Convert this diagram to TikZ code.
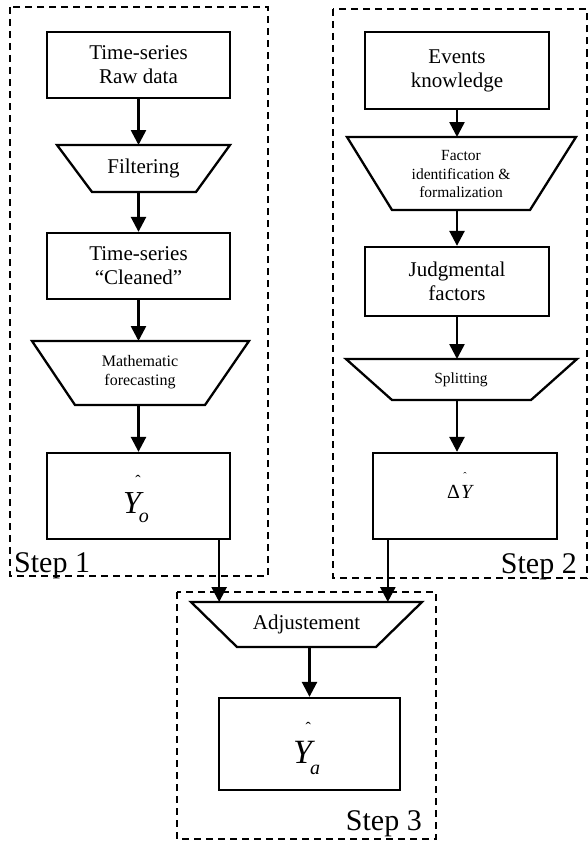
\documentclass[tikz,border=0pt]{standalone}
\usepackage{fontspec}
\setmainfont{Liberation Serif}
\usetikzlibrary{arrows.meta,calc}
\begin{document}
\begin{tikzpicture}[x=1pt,y=-1pt,
  box/.style={draw,line width=2.3pt,rectangle,inner sep=0pt,align=center,font=\fontsize{21}{24}\selectfont},
  trap/.style={line width=2.3pt,line join=miter},
  lbl/.style={inner sep=0pt,align=center},
  big/.style={font=\fontsize{21}{24}\selectfont},
  small/.style={font=\fontsize{15.5}{18.5}\selectfont},
  arr/.style={line width=2.6pt,-{Triangle[width=15pt,length=15pt]}},
  zone/.style={line width=2pt,dash pattern=on 7pt off 5pt},
  steplbl/.style={inner sep=0pt,font=\fontsize{30}{30}\selectfont}]
\useasboundingbox (0,0) rectangle (588,843);

% dashed zones
\draw[zone] (10,7) rectangle (268,576);
\draw[zone] (333,9) rectangle (586.5,578);
\draw[zone] (177,592) rectangle (436,839);

% ---- Step 1 ----
\node[box,minimum width=183pt,minimum height=66pt] (b1) at (138.5,65) {Time-series\\Raw data};
\draw[trap] (57,145) -- (230,145) -- (196,192) -- (92,192) -- cycle;
\coordinate (f1t) at (138.5,145);
\coordinate (f1b) at (138.5,192);
\node[lbl,big] (f1) at (143.5,168) {Filtering};
\node[box,minimum width=183pt,minimum height=66pt] (b2) at (138.5,266) {Time-series\\“Cleaned”};
\draw[trap] (32,341) -- (249,341) -- (205,405) -- (75,405) -- cycle;
\coordinate (f2t) at (138.5,341);
\coordinate (f2b) at (138.5,405);
\node[lbl,small,font=\fontsize{16}{19}\selectfont] (f2) at (140,372) {Mathematic\\forecasting};
\node[box,minimum width=183pt,minimum height=86pt] (yo) at (138.5,496) {};
\node[lbl,anchor=base west] (yot) at (123,513) {{\fontsize{32}{32}\selectfont\itshape Y}\rlap{\kern-5.5pt\raisebox{27pt}{\fontsize{16}{16}\selectfont ˆ}}\kern-2pt\raisebox{-9pt}{\fontsize{20}{20}\selectfont\itshape o}};
\node[steplbl,anchor=base west] (s1) at (14,572) {Step 1};

\draw[arr] (b1.south) -- (f1t);
\draw[arr] (f1b) -- (b2.north);
\draw[arr] (b2.south) -- (f2t);
\draw[arr] (f2b) -- (yo.north);

% ---- Step 2 ----
\node[box,minimum width=184pt,minimum height=77pt] (b5) at (457,70.5) {Events\\knowledge};
\draw[trap] (347,137) -- (576,137) -- (530,210) -- (392,210) -- cycle;
\coordinate (f5t) at (457,137);
\coordinate (f5b) at (457,210);
\node[lbl,small] (f5) at (461,174) {Factor\\identification \&\\formalization};
\node[box,minimum width=184pt,minimum height=69pt] (b6) at (457,281.5) {Judgmental\\factors};
\draw[trap] (346,359) -- (577,359) -- (531,400) -- (392,400) -- cycle;
\coordinate (f6t) at (457,359);
\coordinate (f6b) at (457,400);
\node[lbl,small] (f6) at (461,379.5) {Splitting};
\node[box,minimum width=184pt,minimum height=86pt] (dy) at (465,496) {};
\node[lbl,anchor=base west] (dyt) at (447,498) {\fontsize{20}{20}\selectfont Δ\kern1pt{\itshape Y}\rlap{\kern-8.7pt\raisebox{19pt}{\fontsize{10}{10}\selectfont ˆ}}};
\node[steplbl,anchor=base east] (s2) at (577,573) {Step 2};

\draw[arr] (b5.south) -- (f5t);
\draw[arr] (f5b) -- (b6.north);
\draw[arr] (b6.south) -- (f6t);
\draw[arr] (f6b) -- (f6b |- dy.north);

% ---- Step 3 ----
\draw[trap] (191,602) -- (422,602) -- (376,647) -- (237,647) -- cycle;
\coordinate (adjt) at (306.5,602);
\coordinate (adjb) at (309.5,647);
\node[lbl,big] (adj) at (306.5,624) {Adjustement};
\node[box,minimum width=181pt,minimum height=92pt] (ya) at (309.5,744) {};
\node[lbl,anchor=base west] (yat) at (293,763) {{\fontsize{34}{34}\selectfont\itshape Y}\rlap{\kern-6.6pt\raisebox{30pt}{\fontsize{16}{16}\selectfont ˆ}}\kern-2pt\raisebox{-11pt}{\fontsize{20}{20}\selectfont\itshape a}};
\node[steplbl,anchor=base east] (s3) at (422,830) {Step 3};

\coordinate (yoout) at ($(yo.south east)+(-12,0)$);
\coordinate (dyout) at ($(dy.south west)+(16,0)$);
\draw[arr] (yoout) -- (yoout |- adjt);
\draw[arr] (dyout) -- (dyout |- adjt);
\draw[arr] (adjb) -- (ya.north);
\end{tikzpicture}
\end{document}
